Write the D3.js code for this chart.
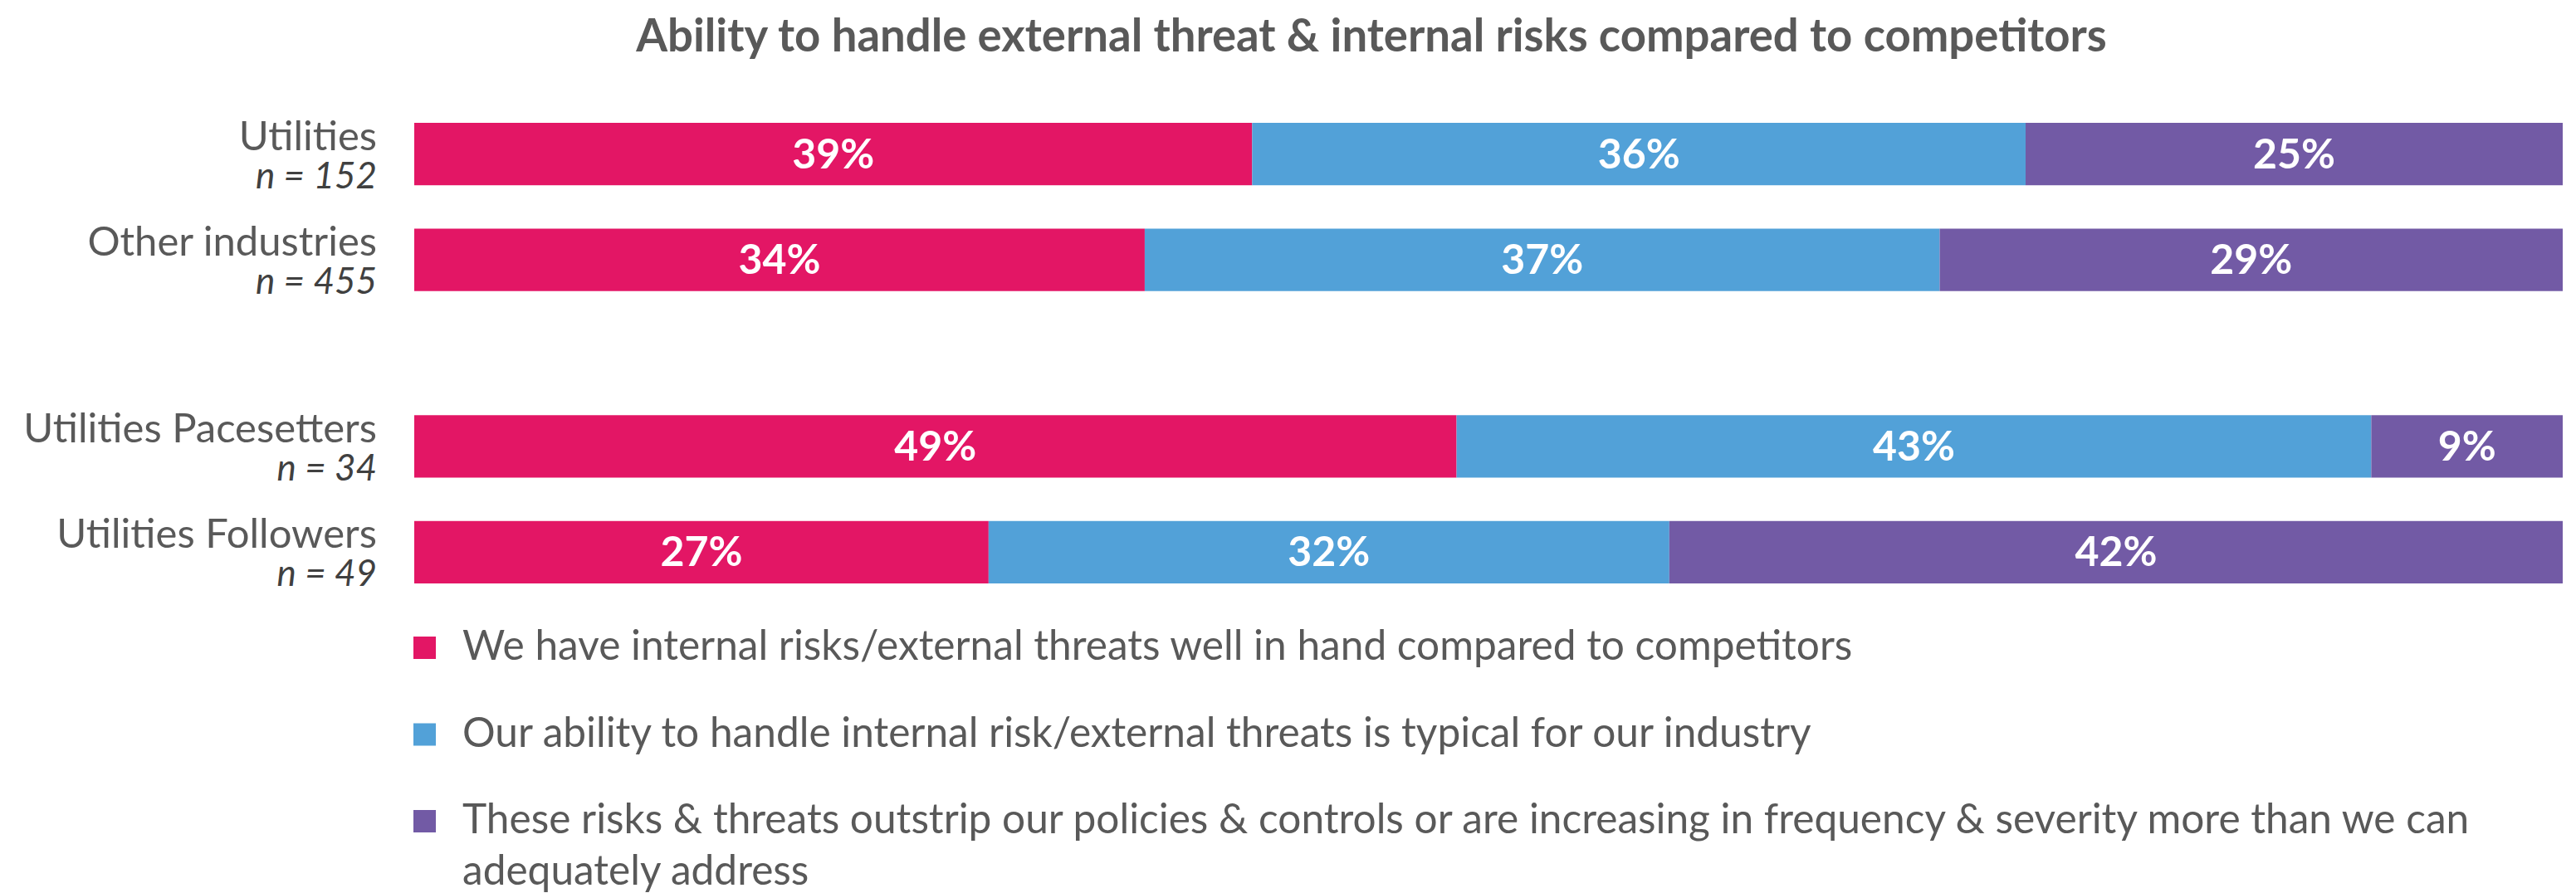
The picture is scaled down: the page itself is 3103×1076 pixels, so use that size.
<!DOCTYPE html>
<html>
<head>
<meta charset="utf-8">
<script src="https://cdn.jsdelivr.net/npm/d3@7"></script>
<style>
  body { margin: 0; background: #fff; }
  svg { display: block; }
</style>
</head>
<body>
<svg id="chart"></svg>
<script>
const title = "Ability to handle external threat & internal risks compared to competitors";

const groups = ["overall", "utilities"];
const rowNames = ["Utilities", "Other industries", "Utilities Pacesetters", "Utilities Followers"];
const rowGroups = ["overall", "overall", "utilities", "utilities"];
const rowN = [152, 455, 34, 49];

const seriesKeys = ["inHand", "typical", "outstrip"];
const inHand = [39, 34, 49, 27];
const typical = [36, 37, 43, 32];
const outstrip = [25, 29, 9, 42];

const legendLines = [
  ["We have internal risks/external threats well in hand compared to competitors"],
  ["Our ability to handle internal risk/external threats is typical for our industry"],
  ["These risks & threats outstrip our policies & controls or are increasing in frequency & severity more than we can",
   "adequately address"]
];
const colors = ["#E31665", "#52A1D8", "#725AA5"];

const W = 3103, H = 1076;
const font = "Lato, 'Open Sans', sans-serif";
const textGray = "#595959";

const svg = d3.select("#chart").attr("width", W).attr("height", H)
  .style("font-family", font);

const table = rowNames.map((name, i) => ({
  name, group: rowGroups[i], n: rowN[i],
  inHand: inHand[i], typical: typical[i], outstrip: outstrip[i]
}));

const stacked = d3.stack().keys(seriesKeys).offset(d3.stackOffsetExpand)(table);

const x = d3.scaleLinear().domain([0, 1]).range([499, 3087]);
const yGroup = d3.scaleBand().domain(groups).range([148, 703]).paddingInner(0.4245);
const yInner = d3.scaleBand().domain([0, 1]).range([0, yGroup.bandwidth()]).paddingInner(0.41);
const rowIndexInGroup = table.map((d, i) => rowGroups.slice(0, i).filter(g => g === d.group).length);
const yRow = i => yGroup(table[i].group) + yInner(rowIndexInGroup[i]);
const bh = yInner.bandwidth();

// title
svg.append("text")
  .attr("x", 1652).attr("y", 62)
  .attr("text-anchor", "middle")
  .attr("fill", textGray)
  .attr("font-weight", "bold")
  .attr("font-size", "54.5px")
  .text(title);

// bars
const layer = svg.selectAll(".layer")
  .data(stacked)
  .join("g")
  .attr("class", "layer")
  .attr("fill", (d, i) => colors[i]);

layer.selectAll("rect")
  .data(d => d.map((s, i) => ({ s, i })))
  .join("rect")
  .attr("x", d => x(d.s[0]))
  .attr("y", d => yRow(d.i))
  .attr("width", d => x(d.s[1]) - x(d.s[0]))
  .attr("height", bh);

// value labels
svg.selectAll(".valLayer")
  .data(stacked)
  .join("g")
  .attr("class", "valLayer")
  .selectAll("text")
  .data(d => d.map((s, i) => ({ s, i, v: s.data[d.key] })))
  .join("text")
  .attr("x", d => x((d.s[0] + d.s[1]) / 2))
  .attr("y", d => yRow(d.i) + bh / 2 + 17)
  .attr("text-anchor", "middle")
  .attr("fill", "#fff")
  .attr("font-weight", "bold")
  .attr("font-size", "50px")
  .text(d => d.v + "%");

// row labels
const rowLab = svg.selectAll(".rowLabel")
  .data(table)
  .join("g")
  .attr("class", "rowLabel");

rowLab.append("text")
  .attr("x", 454)
  .attr("y", (d, i) => yRow(i) + bh / 2 - 5)
  .attr("text-anchor", "end")
  .attr("fill", textGray)
  .attr("font-size", "49px")
  .text(d => d.name);

rowLab.append("text")
  .attr("x", 454)
  .attr("y", (d, i) => yRow(i) + bh / 2 + 41)
  .attr("text-anchor", "end")
  .attr("fill", "#404040")
  .attr("font-size", "44px")
  .attr("font-style", "italic")
  .text(d => `n = ${d.n}`);

// legend
const legend = svg.selectAll(".legendItem")
  .data(legendLines)
  .join("g")
  .attr("class", "legendItem")
  .attr("transform", (d, i) => `translate(498, ${780 + i * 104.5})`);

legend.append("rect")
  .attr("x", 0).attr("y", -13)
  .attr("width", 27).attr("height", 27)
  .attr("fill", (d, i) => colors[i]);

legend.append("text")
  .attr("fill", textGray)
  .attr("font-size", "49.6px")
  .selectAll("tspan")
  .data(d => d)
  .join("tspan")
  .attr("x", 59)
  .attr("y", (d, j) => 15 + j * 62)
  .text(d => d);
</script>
</body>
</html>
